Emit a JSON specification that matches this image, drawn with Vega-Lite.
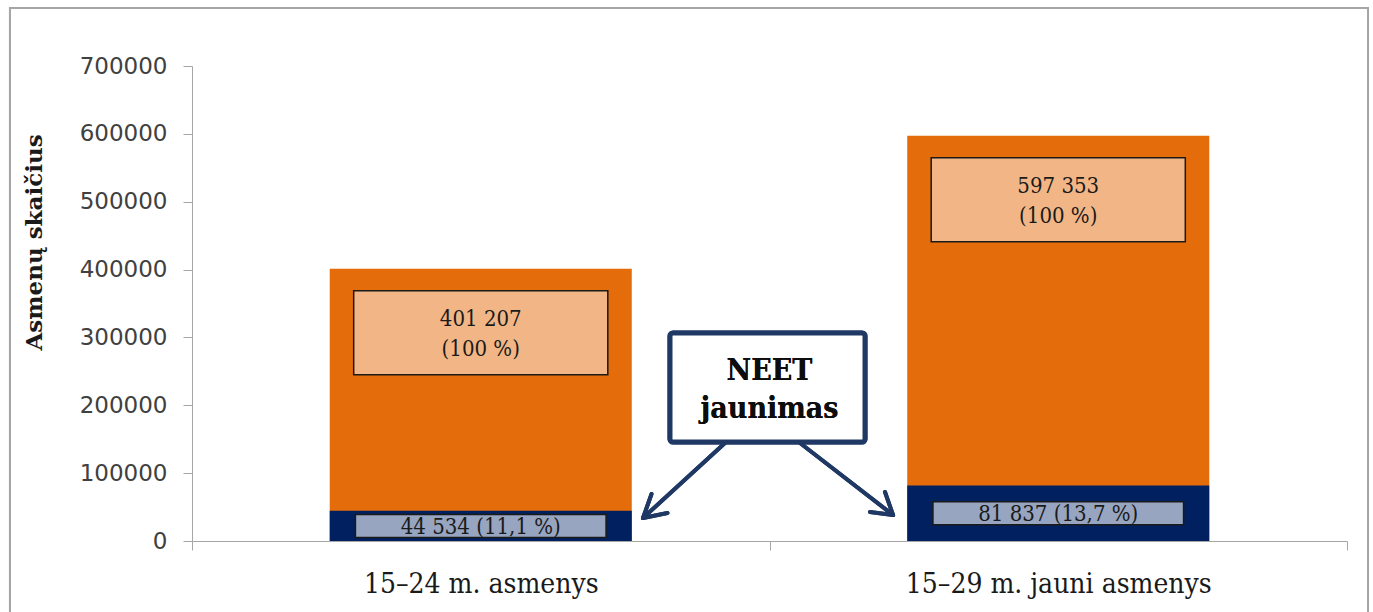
{
  "$schema": "https://vega.github.io/schema/vega-lite/v6.json",
  "width": 1155,
  "height": 475,
  "autosize": {"type": "none"},
  "padding": {"left": 192, "top": 66, "right": 26, "bottom": 71},
  "background": "white",
  "config": {"view": {"stroke": null}},
  "data": {
    "values": [
      {"grupe": "15–24 m. asmenys", "visi": 401207, "neet": 44534, "visi_skaicius": "401 207", "visi_procentai": "(100 %)", "neet_zyma": "44 534 (11,1 %)"},
      {"grupe": "15–29 m. jauni asmenys", "visi": 597353, "neet": 81837, "visi_skaicius": "597 353", "visi_procentai": "(100 %)", "neet_zyma": "81 837 (13,7 %)"}
    ]
  },
  "layer": [
    {
      "encoding": {
        "x": {
          "field": "grupe", "type": "nominal", "sort": null,
          "scale": {"paddingInner": 0, "paddingOuter": 0},
          "axis": {
            "title": null, "tickBand": "extent", "tickSize": 9, "tickColor": "#A6A6A6", "domainColor": "#A6A6A6",
            "labelFont": "DejaVu Serif Condensed, DejaVu Serif", "labelFontSize": 28, "labelColor": "#1a1a1a",
            "labelPadding": 42, "labelBaseline": "alphabetic", "labelAngle": 0, "labelLimit": 0
          }
        }
      },
      "layer": [
        {
          "mark": {"type": "bar", "width": {"band": 0.523}, "color": "#E46C0A"},
          "encoding": {
            "y": {
              "field": "visi", "type": "quantitative",
              "scale": {"domain": [0, 700000], "nice": false},
              "axis": {
                "title": "Asmenų skaičius", "values": [0, 100000, 200000, 300000, 400000, 500000, 600000, 700000],
                "format": "d", "grid": false, "tickSize": 9, "labelPadding": 16, "tickColor": "#A6A6A6", "domainColor": "#A6A6A6",
                "labelFont": "DejaVu Sans", "labelFontSize": 23, "labelColor": "#404040",
                "titleFont": "DejaVu Serif", "titleFontSize": 23, "titleFontWeight": "bold", "titleColor": "#1a1a1a",
                "titleX": -158, "titleY": 176, "titleAngle": 270, "titleAlign": "center", "titleBaseline": "middle"
              }
            }
          }
        },
        {
          "mark": {"type": "bar", "width": {"band": 0.523}, "color": "#002060"},
          "encoding": {"y": {"field": "neet", "type": "quantitative"}}
        },
        {
          "mark": {"type": "bar", "width": {"band": 0.44}, "fill": "#F2B686", "stroke": "#1a1a1a", "strokeWidth": 1.5, "yOffset": 22, "y2Offset": 106},
          "encoding": {"y": {"field": "visi", "type": "quantitative"}, "y2": {"field": "visi"}}
        },
        {
          "mark": {"type": "text", "font": "DejaVu Serif Condensed, DejaVu Serif", "fontSize": 22, "baseline": "middle", "yOffset": 50, "color": "#1a1a1a"},
          "encoding": {"y": {"field": "visi", "type": "quantitative"}, "text": {"field": "visi_skaicius"}}
        },
        {
          "mark": {"type": "text", "font": "DejaVu Serif Condensed, DejaVu Serif", "fontSize": 22, "baseline": "middle", "yOffset": 80, "color": "#1a1a1a"},
          "encoding": {"y": {"field": "visi", "type": "quantitative"}, "text": {"field": "visi_procentai"}}
        }
      ]
    },
    {
      "encoding": {
        "x": {"field": "grupe", "type": "nominal", "sort": null, "scale": {"paddingInner": 0, "paddingOuter": 0}, "axis": null},
        "y": {"field": "neet", "type": "quantitative", "scale": {"domain": [0, 1400000], "nice": false}, "axis": null}
      },
      "layer": [
        {
          "mark": {"type": "bar", "width": {"band": 0.434}, "fill": "#97A5C0", "stroke": "#1a1a1a", "strokeWidth": 1.5, "yOffset": -11.5, "y2Offset": 11.5},
          "encoding": {"y2": {"field": "neet"}}
        },
        {
          "mark": {"type": "text", "font": "DejaVu Serif Condensed, DejaVu Serif", "fontSize": 22, "baseline": "middle", "yOffset": 1, "color": "#1a1a1a"},
          "encoding": {"text": {"field": "neet_zyma"}}
        }
      ]
    },
    {
      "layer": [
        {
          "mark": {"type": "rect", "fillOpacity": 0, "stroke": "#A6A6A6", "strokeWidth": 2, "clip": false},
          "encoding": {
            "x": {"datum": -0.3152, "type": "quantitative", "scale": {"domain": [0, 2], "nice": false, "zero": false}, "axis": null},
            "x2": {"datum": 2.0364},
            "y": {"datum": 785474, "type": "quantitative", "scale": {"domain": [0, 700000], "nice": false}, "axis": null},
            "y2": {"datum": -120000}
          }
        },
        {
          "mark": {"type": "rect", "fill": "white", "stroke": "#1F3864", "strokeWidth": 5, "cornerRadius": 3},
          "encoding": {
            "x": {"datum": 0.8277, "type": "quantitative"}, "x2": {"datum": 1.1654},
            "y": {"datum": 306526, "type": "quantitative"}, "y2": {"datum": 145894}
          }
        },
        {
          "mark": {"type": "text", "text": "NEET", "font": "DejaVu Serif Condensed, DejaVu Serif", "fontSize": 30, "fontWeight": "bold", "baseline": "alphabetic", "color": "#0d0d0d"},
          "encoding": {"x": {"datum": 1.0, "type": "quantitative"}, "y": {"datum": 237263, "type": "quantitative"}}
        },
        {
          "mark": {"type": "text", "text": "jaunimas", "font": "DejaVu Serif Condensed, DejaVu Serif", "fontSize": 30, "fontWeight": "bold", "baseline": "alphabetic", "color": "#0d0d0d"},
          "encoding": {"x": {"datum": 1.0, "type": "quantitative"}, "y": {"datum": 181263, "type": "quantitative"}}
        },
        {
          "mark": {"type": "rule", "color": "#1F3864", "strokeWidth": 4, "strokeCap": "round"},
          "encoding": {"x": {"datum": 0.9229, "type": "quantitative"}, "x2": {"datum": 0.7810}, "y": {"datum": 144421, "type": "quantitative"}, "y2": {"datum": 33895}}
        },
        {
          "mark": {"type": "rule", "color": "#1F3864", "strokeWidth": 4, "strokeCap": "round"},
          "encoding": {"x": {"datum": 0.7810, "type": "quantitative"}, "x2": {"datum": 0.8234}, "y": {"datum": 33895, "type": "quantitative"}, "y2": {"datum": 41263}}
        },
        {
          "mark": {"type": "rule", "color": "#1F3864", "strokeWidth": 4, "strokeCap": "round"},
          "encoding": {"x": {"datum": 0.7810, "type": "quantitative"}, "x2": {"datum": 0.7957}, "y": {"datum": 33895, "type": "quantitative"}, "y2": {"datum": 69263}}
        },
        {
          "mark": {"type": "rule", "color": "#1F3864", "strokeWidth": 4, "strokeCap": "round"},
          "encoding": {"x": {"datum": 1.0528, "type": "quantitative"}, "x2": {"datum": 1.2139}, "y": {"datum": 144421, "type": "quantitative"}, "y2": {"datum": 38316}}
        },
        {
          "mark": {"type": "rule", "color": "#1F3864", "strokeWidth": 4, "strokeCap": "round"},
          "encoding": {"x": {"datum": 1.2139, "type": "quantitative"}, "x2": {"datum": 1.1740}, "y": {"datum": 38316, "type": "quantitative"}, "y2": {"datum": 42737}}
        },
        {
          "mark": {"type": "rule", "color": "#1F3864", "strokeWidth": 4, "strokeCap": "round"},
          "encoding": {"x": {"datum": 1.2139, "type": "quantitative"}, "x2": {"datum": 1.2000}, "y": {"datum": 38316, "type": "quantitative"}, "y2": {"datum": 72211}}
        }
      ]
    }
  ],
  "resolve": {"scale": {"x": "independent", "y": "independent"}}
}
